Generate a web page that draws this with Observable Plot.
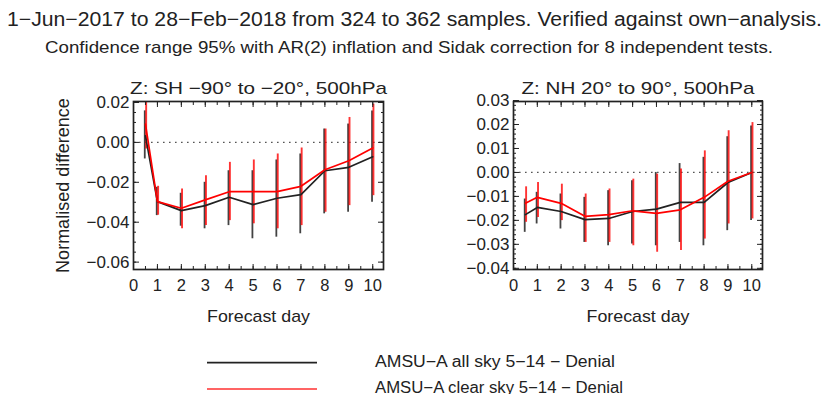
<!DOCTYPE html>
<html><head><meta charset="utf-8">
<script src="https://cdn.jsdelivr.net/npm/d3@7"></script>
<script src="https://cdn.jsdelivr.net/npm/@observablehq/plot@0.6"></script>
<style>
body{margin:0;background:#fff;}
#wrap{position:relative;width:831px;height:394px;overflow:hidden;font-family:"Liberation Sans",Arial,sans-serif;color:#222;background:#fff}
#wrap > svg{position:absolute}
</style></head><body><div id="wrap"></div>
<script>
// ---- data ----
const days = [0.5, 1, 2, 3, 4, 5, 6, 7, 8, 9, 10];
const seriesNames = ["AMSU−A all sky 5−14 − Denial", "AMSU−A clear sky 5−14 − Denial"];
const seriesColors = ["#222222", "#ff0000"];

// SH panel
const shTitle = "Z: SH −90° to −20°, 500hPa";
const shAll   = [0.0033, -0.0297, -0.0342, -0.0317, -0.0275, -0.0312, -0.0280, -0.0262, -0.0142, -0.0125, -0.0072];
const shAllHi = [0.0158, -0.0225, -0.0255, -0.0200, -0.0142, -0.0142, -0.0088, -0.0058, 0.0067, 0.0092, 0.0158];
const shAllLo = [-0.0083, -0.0367, -0.0420, -0.0433, -0.0417, -0.0483, -0.0475, -0.0458, -0.0358, -0.0350, -0.0300];
const shClr   = [0.0092, -0.0297, -0.0330, -0.0288, -0.0247, -0.0247, -0.0247, -0.0220, -0.0137, -0.0092, -0.0028];
const shClrHi = [0.0240, -0.0220, -0.0233, -0.0167, -0.0100, -0.0088, -0.0058, -0.0028, 0.0067, 0.0125, 0.0192];
const shClrLo = [-0.0033, -0.0365, -0.0433, -0.0417, -0.0392, -0.0408, -0.0433, -0.0417, -0.0350, -0.0317, -0.0267];

// NH panel
const nhTitle = "Z: NH 20° to 90°, 500hPa";
const nhAll   = [-0.0176, -0.0146, -0.0163, -0.0197, -0.0192, -0.0163, -0.0153, -0.0125, -0.0125, -0.0042, 0.0000];
const nhAllHi = [-0.0111, -0.0083, -0.0090, -0.0104, -0.0076, -0.0035, 0.0000, 0.0037, 0.0063, 0.0149, 0.0194];
const nhAllLo = [-0.0250, -0.0215, -0.0236, -0.0292, -0.0306, -0.0299, -0.0306, -0.0292, -0.0306, -0.0243, -0.0201];
const nhClr   = [-0.0129, -0.0104, -0.0129, -0.0183, -0.0176, -0.0160, -0.0171, -0.0156, -0.0104, -0.0037, 0.0000];
const nhClrHi = [-0.0060, -0.0042, -0.0049, -0.0090, -0.0069, -0.0028, -0.0007, 0.0014, 0.0090, 0.0174, 0.0208];
const nhClrLo = [-0.0208, -0.0188, -0.0201, -0.0292, -0.0292, -0.0306, -0.0333, -0.0326, -0.0278, -0.0215, -0.0194];

// ticks
const xTicks = [0, 1, 2, 3, 4, 5, 6, 7, 8, 9, 10];
const shYTicks = [-0.06, -0.04, -0.02, 0.00, 0.02];
const nhYTicks = [-0.04, -0.03, -0.02, -0.01, 0.00, 0.01, 0.02, 0.03];

const title1 = "1−Jun−2017 to 28−Feb−2018 from 324 to 362 samples. Verified against own−analysis.";
const title2 = "Confidence range 95% with AR(2) inflation and Sidak correction for 8 independent tests.";
const xLabel = "Forecast day";
const yLabel = "Normalised difference";

function rowsOf(vals, his, los, name) {
  return days.map((d, i) => ({day: d, value: vals[i], hi: his[i], lo: los[i], series: name}));
}

function fit(svg, str, len) {
  svg.querySelectorAll("text").forEach(t => {
    if (t.textContent === str) { t.setAttribute("textLength", len); t.setAttribute("lengthAdjust", "spacingAndGlyphs"); }
  });
}

function panel(o) {
  const rows = [...rowsOf(o.all, o.allHi, o.allLo, seriesNames[0]), ...rowsOf(o.clr, o.clrHi, o.clrLo, seriesNames[1])];
  const [y0, y1] = o.yDomain;
  const minor = d3.range(Math.ceil(y0 / o.minorStep), Math.floor(y1 / o.minorStep) + 1).map(k => +(k * o.minorStep).toFixed(4));
  const xMinor = d3.range(0, 10.5, 0.5);
  const empty = () => "";
  const marks = [
    Plot.ruleY([0], {stroke: "#555", strokeDasharray: "1.6,4.4", strokeWidth: 1.3}),
    Plot.ruleX(rows, {filter: d => d.series === seriesNames[0], x: "day", y1: "lo", y2: "hi", stroke: seriesColors[0], strokeWidth: 1.8, strokeOpacity: 0.85, dx: -0.7, clip: true}),
    Plot.ruleX(rows, {filter: d => d.series === seriesNames[1], x: "day", y1: "lo", y2: "hi", stroke: seriesColors[1], strokeWidth: 1.9, strokeOpacity: 0.8, dx: 0.7, clip: true}),
    Plot.line(rows, {x: "day", y: "value", z: "series", stroke: "series", strokeWidth: 1.7}),
    // labels
    Plot.axisY({anchor: "left", ticks: o.yTicks, tickSize: 0, tickPadding: 4, tickFormat: d3.format(".2f"), fontSize: 17, label: null}),
    Plot.axisX({anchor: "bottom", ticks: xTicks, tickSize: 0, tickPadding: 10, tickFormat: d => String(d), fontSize: 16.5, label: null}),
    // inward tick marks on all sides
    Plot.axisY({anchor: "left", ticks: o.yTicks, tickSize: -6, tickFormat: empty, label: null}),
    Plot.axisY({anchor: "left", ticks: minor, tickSize: -3, tickFormat: empty, label: null}),
    Plot.axisY({anchor: "right", ticks: o.yTicks, tickSize: -6, tickFormat: empty, label: null}),
    Plot.axisY({anchor: "right", ticks: minor, tickSize: -3, tickFormat: empty, label: null}),
    Plot.axisX({anchor: "bottom", ticks: xTicks, tickSize: -5, tickFormat: empty, label: null}),
    Plot.axisX({anchor: "bottom", ticks: xMinor, tickSize: -3, tickFormat: empty, label: null}),
    Plot.axisX({anchor: "top", ticks: xTicks, tickSize: -5, tickFormat: empty, label: null}),
    Plot.axisX({anchor: "top", ticks: xMinor, tickSize: -3, tickFormat: empty, label: null}),
    Plot.frame({stroke: "#222", strokeWidth: 1.7}),
    Plot.text([o.title], {text: d => d, frameAnchor: "top", dy: -13, lineAnchor: "middle", textAnchor: "middle", fontSize: 17, fill: "#222"}),
    Plot.text([xLabel], {text: d => d, frameAnchor: "bottom", dy: 47.5, lineAnchor: "middle", textAnchor: "middle", fontSize: 17, fill: "#222"})
  ];
  if (o.yLabel) marks.push(Plot.text([o.yLabel], {text: d => d, frameAnchor: "left", dx: -70, rotate: -90, lineAnchor: "middle", textAnchor: "middle", fontSize: 18, fill: "#222"}));
  const svg = Plot.plot({
    width: o.width, height: 280,
    marginLeft: o.ml, marginRight: o.mr, marginTop: 41, marginBottom: 71,
    x: {domain: [0, 10.45], label: null},
    y: {domain: o.yDomain, label: null},
    color: {domain: seriesNames, range: seriesColors},
    style: {fontFamily: '"Liberation Sans", Arial, sans-serif', color: "#222", background: "transparent", overflow: "visible"},
    marks
  });
  svg.style.left = o.left + "px";
  svg.style.top = "60px";
  return svg;
}

const wrap = document.getElementById("wrap");
const left = panel({title: shTitle, all: shAll, allHi: shAllHi, allLo: shAllLo, clr: shClr, clrHi: shClrHi, clrLo: shClrLo,
  yDomain: [-0.0637, 0.0205], yTicks: shYTicks, minorStep: 0.005, yLabel, width: 415, ml: 133, mr: 32, left: 0});
const right = panel({title: nhTitle, all: nhAll, allHi: nhAllHi, allLo: nhAllLo, clr: nhClr, clrHi: nhClrHi, clrLo: nhClrLo,
  yDomain: [-0.0405, 0.0296], yTicks: nhYTicks, minorStep: 0.002, yLabel: null, width: 416, ml: 98, mr: 69, left: 415});
wrap.appendChild(left);
wrap.appendChild(right);
fit(left, shTitle, 257); fit(right, nhTitle, 233);
fit(left, xLabel, 103); fit(right, xLabel, 103);

// titles and legend overlay
const ns = "http://www.w3.org/2000/svg";
const ov = document.createElementNS(ns, "svg");
ov.setAttribute("width", 831); ov.setAttribute("height", 394);
ov.style.left = "0px"; ov.style.top = "0px";
ov.style.fontFamily = '"Liberation Sans", Arial, sans-serif';
function txt(s, x, y, size, len, anchor) {
  const t = document.createElementNS(ns, "text");
  t.textContent = s; t.setAttribute("x", x); t.setAttribute("y", y);
  t.setAttribute("font-size", size); t.setAttribute("fill", "#222");
  t.setAttribute("text-anchor", anchor || "middle");
  t.setAttribute("textLength", len); t.setAttribute("lengthAdjust", "spacingAndGlyphs");
  ov.appendChild(t);
}
function ln(x1, x2, y, color, w) {
  const l = document.createElementNS(ns, "line");
  l.setAttribute("x1", x1); l.setAttribute("x2", x2); l.setAttribute("y1", y); l.setAttribute("y2", y);
  l.setAttribute("stroke", color); l.setAttribute("stroke-width", w);
  ov.appendChild(l);
}
txt(title1, 414.5, 26, 20, 815);
txt(title2, 409, 53, 17, 728);
ln(207, 317, 362.7, seriesColors[0], 1.8);
ln(207, 317, 389, "#ff3030", 1.6);
txt(seriesNames[0], 375, 367, 16, 240, "start");
txt(seriesNames[1], 375, 392.5, 16, 248, "start");
wrap.appendChild(ov);
</script></body></html>
